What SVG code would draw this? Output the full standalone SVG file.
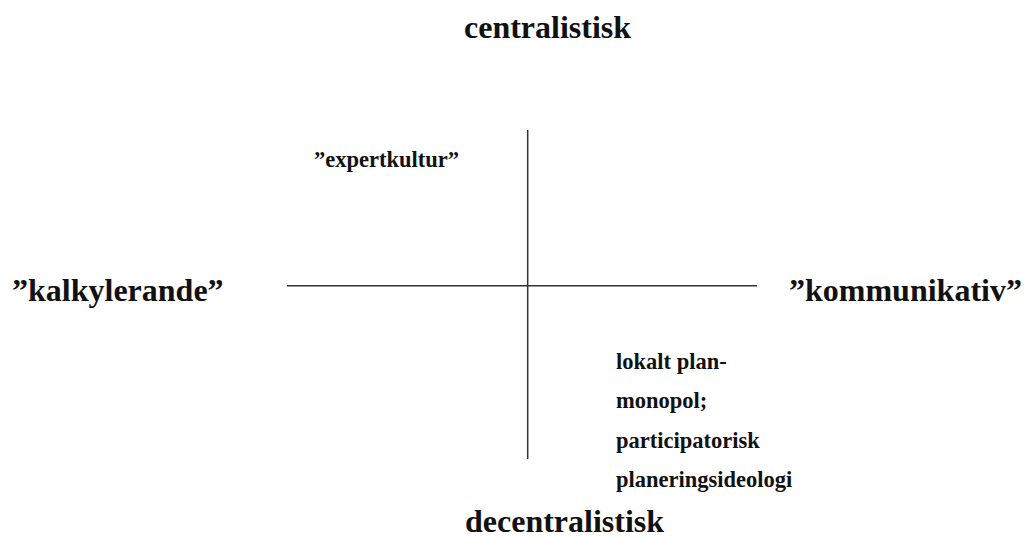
<svg xmlns="http://www.w3.org/2000/svg" width="1024" height="539" viewBox="0 0 1024 539">
<style>
text{font-family:"Liberation Serif","Times New Roman",serif;font-weight:bold;fill:#111}
.big{font-size:32px}
.small{font-size:22.5px}
.axis{stroke:#333;stroke-width:1.5;fill:none}
</style>
<rect width="1024" height="539" fill="#fff"/>
<g id="connectors">
<line class="axis" x1="527.7" y1="130" x2="527.7" y2="459"/>
<line class="axis" x1="287" y1="285.7" x2="757" y2="285.7"/>
</g>
<g id="top"><text class="big" x="464" y="38">centralistisk</text></g>
<g id="bottom"><text class="big" x="465" y="532">decentralistisk</text></g>
<g id="left"><text class="big" x="12" y="300.5">”kalkylerande”</text></g>
<g id="right"><text class="big" x="789" y="300.5">”kommunikativ”</text></g>
<g id="expert"><text class="small" x="314" y="167">”expertkultur”</text></g>
<g id="local">
<text class="small" x="616" y="369">lokalt plan-</text>
<text class="small" x="616" y="408">monopol;</text>
<text class="small" x="616" y="448">participatorisk</text>
<text class="small" x="616" y="487">planeringsideologi</text>
</g>
</svg>
